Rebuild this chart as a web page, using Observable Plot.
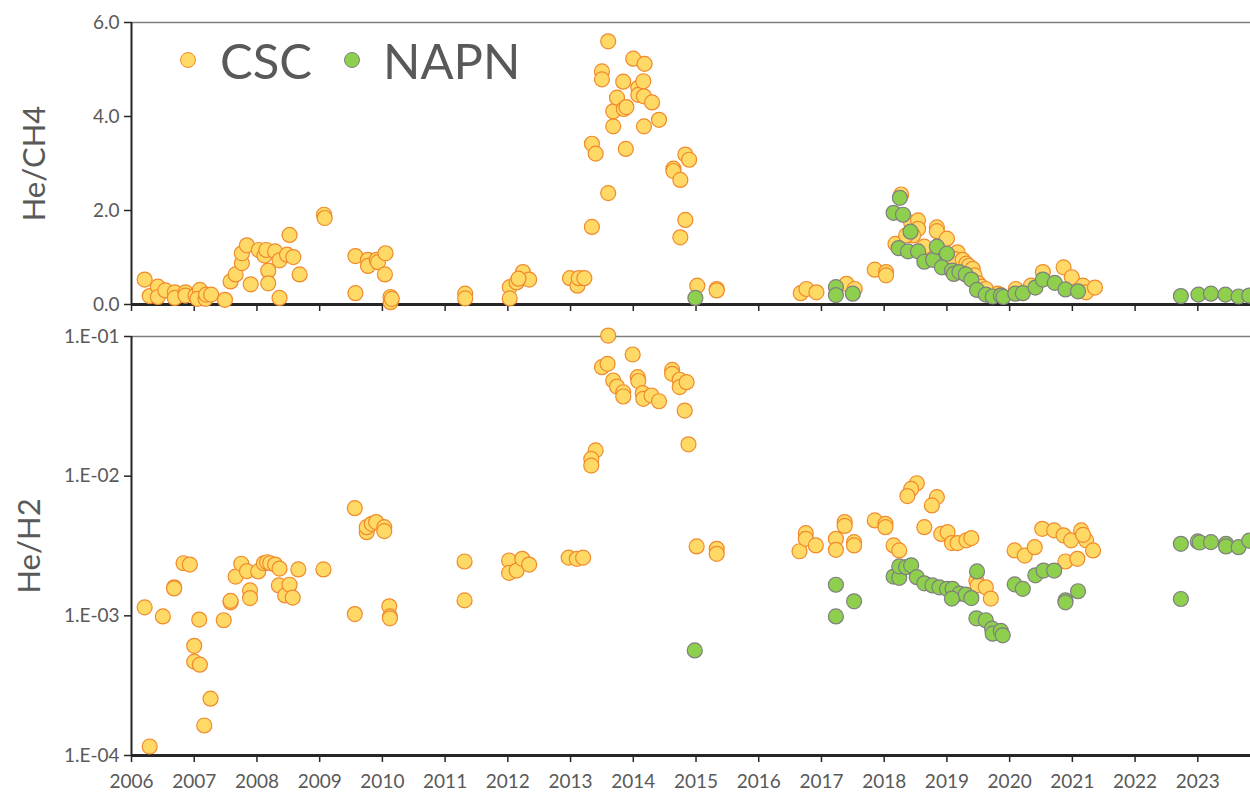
<!DOCTYPE html>
<html>
<head>
<meta charset="utf-8">
<script src="https://cdn.jsdelivr.net/npm/d3@7"></script>
<script src="https://cdn.jsdelivr.net/npm/@observablehq/plot@0.6"></script>
<style>
  html, body { margin: 0; padding: 0; background: white; overflow: hidden; }
  #wrap { position: relative; width: 1250px; height: 796px; font-family: Lato, "Open Sans", sans-serif; }
  #wrap svg { display: block; }
  .leg { position: absolute; display: flex; align-items: center; color: #595959; font-size: 49px; line-height: 48px; height: 48px; }
  .leg .sw { width: 16px; height: 16px; border-radius: 50%; box-sizing: border-box; }
</style>
</head>
<body>
<div id="wrap"></div>
<script>
// ---- data (decimal year, value) ----
const years = d3.range(2006, 2024);
const xDomain = [2006, 2023.84];
const ch4Ticks = [0, 2, 4, 6];
const h2Ticks = [1e-1, 1e-2, 1e-3, 1e-4];
const seriesNames = ["CSC", "NAPN"];

const cscCH4 = [
[2006.21,0.53],[2006.29,0.18],[2006.42,0.38],[2006.42,0.16],[2006.54,0.30],[2006.69,0.26],[2006.69,0.14],
[2006.86,0.26],[2006.86,0.19],[2007.02,0.19],[2007.09,0.31],[2007.05,0.12],[2007.18,0.12],[2007.19,0.21],
[2007.27,0.21],[2007.49,0.10],[2007.58,0.49],[2007.66,0.64],[2007.76,0.88],[2007.76,1.09],[2007.84,1.26],
[2007.90,0.43],[2008.03,1.16],[2008.12,1.04],[2008.15,1.16],[2008.18,0.72],[2008.18,0.45],[2008.29,1.13],
[2008.36,0.94],[2008.36,0.14],[2008.48,1.06],[2008.58,1.01],[2008.52,1.48],[2008.68,0.64],[2009.07,1.91],
[2009.08,1.84],[2009.57,1.03],[2009.57,0.24],[2009.77,0.95],[2009.77,0.82],[2009.91,0.95],[2009.93,0.90],
[2010.05,1.09],[2010.04,0.64],[2010.13,0.16],[2010.13,0.05],[2010.15,0.12],[2011.32,0.23],[2011.32,0.13],
[2012.03,0.37],[2012.03,0.13],[2012.14,0.47],[2012.24,0.69],[2012.34,0.53],[2012.17,0.55],[2012.99,0.56],
[2013.11,0.40],[2013.13,0.56],[2013.22,0.56],[2013.34,1.65],[2013.34,3.42],[2013.40,3.21],[2013.50,4.96],
[2013.50,4.79],[2013.60,5.60],[2013.60,2.37],[2013.68,3.79],[2013.68,4.11],[2013.74,4.40],[2013.84,4.74],
[2013.85,4.16],[2013.89,4.20],[2013.88,3.31],[2014.00,5.23],[2014.08,4.61],[2014.08,4.46],[2014.16,4.75],
[2014.18,5.12],[2014.17,4.43],[2014.17,3.79],[2014.30,4.30],[2014.41,3.93],[2014.64,2.89],[2014.64,2.84],
[2014.75,2.65],[2014.83,3.19],[2014.89,3.08],[2014.83,1.80],[2014.75,1.43],[2015.02,0.40],[2015.33,0.33],
[2015.33,0.30],[2016.67,0.24],[2016.76,0.33],[2016.92,0.26],[2017.40,0.44],[2017.53,0.33],[2017.85,0.74],
[2018.03,0.69],[2018.03,0.62],[2018.27,2.34],[2018.18,1.29],[2018.43,1.74],[2018.54,1.79],[2018.54,1.61],
[2018.46,1.47],[2018.35,1.47],[2018.64,1.23],[2018.84,1.64],[2018.84,1.56],[2019.00,1.40],[2019.17,1.11],
[2019.12,0.97],[2019.25,0.95],[2019.31,0.87],[2019.35,0.82],[2019.41,0.76],[2019.44,0.62],[2019.50,0.45],
[2019.55,0.38],[2019.62,0.33],[2019.81,0.23],[2019.86,0.20],[2020.10,0.33],[2020.34,0.40],[2020.53,0.69],
[2020.86,0.79],[2020.99,0.58],[2021.17,0.40],[2021.22,0.26],[2021.36,0.36]
];

const napnCH4 = [
[2014.99,0.14],[2017.23,0.37],[2017.23,0.20],[2017.50,0.23],[2018.25,2.27],[2018.15,1.95],[2018.30,1.91],
[2018.23,1.20],[2018.38,1.13],[2018.42,1.55],[2018.54,1.13],[2018.64,0.91],[2018.78,0.95],[2018.84,1.23],
[2019.00,1.08],[2018.92,0.79],[2019.08,0.72],[2019.11,0.65],[2019.20,0.69],[2019.30,0.64],[2019.39,0.53],
[2019.48,0.31],[2019.62,0.21],[2019.73,0.17],[2019.86,0.19],[2019.90,0.16],[2020.09,0.23],[2020.21,0.24],
[2020.41,0.36],[2020.53,0.53],[2020.72,0.46],[2020.89,0.32],[2021.09,0.28],[2022.73,0.18],[2023.01,0.21],
[2023.21,0.23],[2023.44,0.21],[2023.65,0.17],[2023.82,0.19]
];

const cscH2 = [
[2006.21,1.15e-3],[2006.29,1.16e-4],[2006.50,9.9e-4],[2006.68,1.60e-3],[2006.68,1.57e-3],[2006.83,2.38e-3],
[2006.93,2.33e-3],[2007.00,6.1e-4],[2007.00,4.7e-4],[2007.09,4.47e-4],[2007.08,9.4e-4],[2007.26,2.55e-4],
[2007.16,1.64e-4],[2007.47,9.3e-4],[2007.58,1.25e-3],[2007.58,1.28e-3],[2007.66,1.91e-3],[2007.75,2.36e-3],
[2007.84,2.09e-3],[2007.89,1.52e-3],[2007.89,1.34e-3],[2008.02,2.08e-3],[2008.11,2.38e-3],[2008.16,2.42e-3],
[2008.21,2.38e-3],[2008.29,2.33e-3],[2008.36,2.18e-3],[2008.35,1.65e-3],[2008.45,1.40e-3],[2008.52,1.67e-3],
[2008.57,1.35e-3],[2008.66,2.15e-3],[2009.06,2.15e-3],[2009.56,5.9e-3],[2009.56,1.03e-3],[2009.75,3.97e-3],
[2009.75,4.31e-3],[2009.83,4.56e-3],[2009.90,4.69e-3],[2010.03,4.31e-3],[2010.03,4.04e-3],[2010.11,1.17e-3],
[2010.12,9.9e-4],[2010.12,9.6e-4],[2011.31,2.45e-3],[2011.31,1.29e-3],[2012.02,2.49e-3],[2012.02,2.03e-3],
[2012.14,2.11e-3],[2012.23,2.56e-3],[2012.34,2.33e-3],[2012.97,2.61e-3],[2013.10,2.56e-3],[2013.20,2.61e-3],
[2013.40,1.53e-2],[2013.33,1.33e-2],[2013.33,1.19e-2],[2013.60,0.1016],[2013.50,6.03e-2],[2013.59,6.37e-2],
[2013.99,7.43e-2],[2013.68,4.84e-2],[2013.74,4.38e-2],[2013.84,3.99e-2],[2013.84,3.72e-2],[2014.07,5.12e-2],
[2014.08,4.8e-2],[2014.15,3.93e-2],[2014.16,3.58e-2],[2014.29,3.78e-2],[2014.41,3.44e-2],[2014.62,5.76e-2],
[2014.62,5.4e-2],[2014.74,4.9e-2],[2014.74,4.34e-2],[2014.85,4.71e-2],[2014.82,2.95e-2],[2014.88,1.69e-2],
[2015.01,3.14e-3],[2015.33,3.02e-3],[2015.33,2.78e-3],[2016.65,2.90e-3],[2016.75,3.91e-3],[2016.75,3.56e-3],
[2016.91,3.19e-3],[2017.23,3.56e-3],[2017.23,2.97e-3],[2017.37,4.69e-3],[2017.37,4.4e-3],[2017.52,3.37e-3],
[2017.52,3.19e-3],[2017.85,4.82e-3],[2018.02,4.56e-3],[2018.02,4.31e-3],[2018.52,8.9e-3],[2018.43,8.1e-3],
[2018.37,7.2e-3],[2018.84,7.08e-3],[2018.76,6.17e-3],[2018.64,4.31e-3],[2018.15,3.19e-3],[2018.24,2.94e-3],
[2018.91,3.86e-3],[2019.01,3.97e-3],[2019.08,3.32e-3],[2019.17,3.32e-3],[2019.31,3.47e-3],[2019.39,3.6e-3],
[2019.47,1.79e-3],[2019.49,1.65e-3],[2019.62,1.60e-3],[2019.70,1.33e-3],[2020.08,2.94e-3],[2020.24,2.70e-3],
[2020.40,3.10e-3],[2020.52,4.2e-3],[2020.71,4.09e-3],[2020.86,3.77e-3],[2020.98,3.47e-3],[2021.14,4.09e-3],
[2021.22,3.47e-3],[2021.33,2.94e-3],[2020.89,2.45e-3],[2021.08,2.56e-3],[2021.17,3.8e-3]
];

const napnH2 = [
[2014.98,5.65e-4],[2017.23,1.67e-3],[2017.23,9.9e-4],[2017.52,1.27e-3],[2018.15,1.91e-3],[2018.24,1.87e-3],
[2018.24,2.26e-3],[2018.35,2.23e-3],[2018.43,2.30e-3],[2018.52,1.89e-3],[2018.64,1.71e-3],[2018.77,1.65e-3],
[2018.88,1.60e-3],[2019.00,1.56e-3],[2019.09,1.56e-3],[2019.20,1.44e-3],[2019.30,1.42e-3],[2019.39,1.34e-3],
[2019.08,1.33e-3],[2019.48,2.08e-3],[2019.47,9.6e-4],[2019.62,9.3e-4],[2019.72,8.1e-4],[2019.73,7.45e-4],
[2019.86,7.8e-4],[2019.89,7.25e-4],[2020.08,1.68e-3],[2020.21,1.56e-3],[2020.41,1.95e-3],[2020.54,2.11e-3],
[2020.71,2.11e-3],[2020.89,1.29e-3],[2020.89,1.25e-3],[2021.09,1.50e-3],[2022.73,3.28e-3],[2022.73,1.32e-3],
[2023.00,3.41e-3],[2023.03,3.35e-3],[2023.21,3.37e-3],[2023.45,3.28e-3],[2023.45,3.14e-3],[2023.65,3.10e-3],
[2023.82,3.45e-3]
];

// ---- styles ----
const cscStyle = {fill: "#FFD966", stroke: "#F08A2C", strokeWidth: 1.2, r: 7.5};
const napnStyle = {fill: "#8FCF4E", stroke: "#7F7F7F", strokeWidth: 1.2, r: 7.5};
const textColor = "#595959";
const axisColor = "#262626";
const font = "Lato, 'Open Sans', sans-serif";

const wrap = document.getElementById("wrap");

const topChart = Plot.plot({
  width: 1250, height: 320,
  marginTop: 22, marginBottom: 16, marginLeft: 131, marginRight: 0,
  style: {fontFamily: font, fontSize: "19px", color: textColor, background: "white"},
  x: {domain: xDomain},
  y: {domain: [0, 6]},
  marks: [
    Plot.ruleY([6], {stroke: "#7f7f7f", strokeWidth: 1.5}),
    Plot.axisY({ticks: ch4Ticks, tickFormat: d => d.toFixed(1), tickSize: 7, tickPadding: 5,
      stroke: axisColor, strokeWidth: 1.5, fill: textColor, label: null, fontSize: 19}),
    Plot.axisX({ticks: years, tickFormat: () => "", tickSize: 7, stroke: axisColor, strokeWidth: 1.5, label: null}),
    Plot.ruleX([2006], {stroke: axisColor, strokeWidth: 2}),
    Plot.ruleY([0], {stroke: axisColor, strokeWidth: 3}),
    Plot.dot(cscCH4, {x: d => d[0], y: d => d[1], ...cscStyle}),
    Plot.dot(napnCH4, {x: d => d[0], y: d => d[1], ...napnStyle}),
    Plot.text(["He/CH4"], {frameAnchor: "left", textAnchor: "middle", rotate: -90, dx: -96, fontSize: 31, fill: textColor})
  ]
});

const expFmt = d => {
  const e = Math.round(Math.log10(d));
  return "1.E" + (e < 0 ? "-" : "+") + String(Math.abs(e)).padStart(2, "0");
};

const bottomChart = Plot.plot({
  width: 1250, height: 476,
  marginTop: 16, marginBottom: 41, marginLeft: 131, marginRight: 0,
  style: {fontFamily: font, fontSize: "19px", color: textColor, background: "white"},
  x: {domain: xDomain},
  y: {type: "log", domain: [1e-4, 1e-1]},
  marks: [
    Plot.ruleY([1e-1], {stroke: "#7f7f7f", strokeWidth: 1.5}),
    Plot.axisY({ticks: h2Ticks, tickFormat: expFmt, tickSize: 7, tickPadding: 5,
      stroke: axisColor, strokeWidth: 1.5, fill: textColor, label: null, fontSize: 19}),
    Plot.axisX({ticks: years, tickFormat: d => String(d), tickSize: 7, tickPadding: 12,
      stroke: axisColor, strokeWidth: 1.5, fill: textColor, label: null, fontSize: 19}),
    Plot.ruleX([2006], {stroke: axisColor, strokeWidth: 2}),
    Plot.ruleY([1e-4], {stroke: axisColor, strokeWidth: 3}),
    Plot.dot(cscH2, {x: d => d[0], y: d => d[1], ...cscStyle}),
    Plot.dot(napnH2, {x: d => d[0], y: d => d[1], ...napnStyle}),
    Plot.text(["He/H2"], {frameAnchor: "left", textAnchor: "middle", rotate: -90, dx: -101, fontSize: 31, fill: textColor})
  ]
});

wrap.appendChild(topChart);
wrap.appendChild(bottomChart);

// ---- legend ----
const legendPos = [{left: 180, top: 36, gap: 24}, {left: 344, top: 36, gap: 23}];
[cscStyle, napnStyle].forEach((s, i) => {
  const item = document.createElement("div");
  item.className = "leg";
  item.style.left = legendPos[i].left + "px";
  item.style.top = legendPos[i].top + "px";
  const sw = document.createElement("div");
  sw.className = "sw";
  sw.style.background = s.fill;
  sw.style.border = "1.2px solid " + s.stroke;
  sw.style.marginRight = legendPos[i].gap + "px";
  const tx = document.createElement("span");
  tx.textContent = seriesNames[i];
  item.appendChild(sw);
  item.appendChild(tx);
  wrap.appendChild(item);
});
</script>
</body>
</html>
